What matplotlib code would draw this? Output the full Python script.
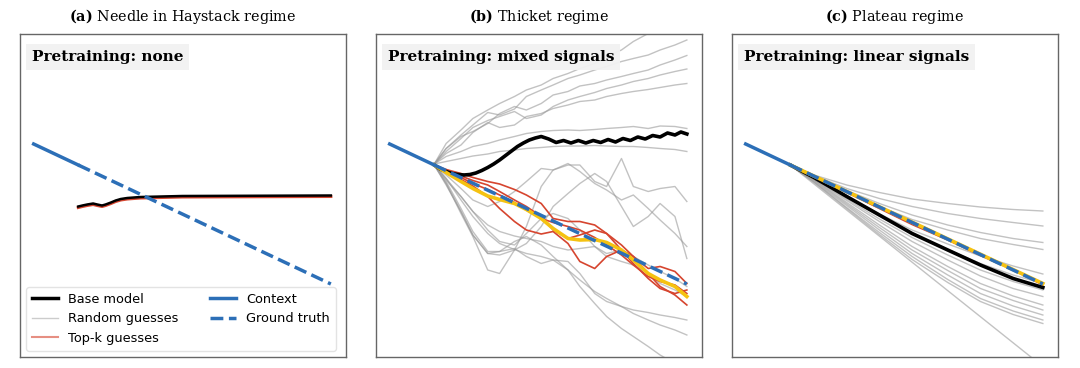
import matplotlib.pyplot as plt
from matplotlib.lines import Line2D

plt.rcParams['mathtext.fontset'] = 'dejavuserif'

# shared context window and ground-truth continuation
ctx_t = [0, 15]
ctx_y = [0.92, 0.50]
truth_t = [15, 100]
truth_y = [0.50, -1.88]

# (a) needle in haystack: base model and its top-k guess
ta = [15, 16.4, 18, 20, 21.4, 23, 24.2, 26, 27.6, 29.3, 31.5, 36, 43, 50, 100]
base_a = [-0.33, -0.31, -0.29, -0.27, -0.29, -0.31, -0.29, -0.25, -0.21, -0.18, -0.16, -0.14, -0.13, -0.12, -0.11]
topk_a = [-0.35, -0.33, -0.31, -0.29, -0.31, -0.33, -0.31, -0.27, -0.23, -0.20, -0.18, -0.16, -0.15, -0.14, -0.13]

# (b) thicket regime
tb = [15, 19, 24, 28, 33, 37, 42, 46, 51, 55, 60, 64, 69, 73, 78, 82, 87, 91, 96, 100]
random_b = [
    [0.52, 0.93, 1.20, 1.43, 1.60, 1.73, 1.87, 2.00, 2.10, 2.23, 2.33, 2.43, 2.53, 2.67, 2.80, 2.97, 3.13, 3.30, 3.47, 3.60],
    [0.52, 0.83, 1.10, 1.30, 1.55, 1.50, 1.62, 1.87, 2.00, 2.10, 2.23, 2.30, 2.40, 2.47, 2.57, 2.63, 2.70, 2.80, 2.90, 3.00],
    [0.52, 0.83, 1.07, 1.17, 1.33, 1.53, 1.67, 1.60, 1.73, 1.90, 1.97, 2.08, 2.13, 2.20, 2.27, 2.33, 2.40, 2.50, 2.60, 2.69],
    [0.52, 0.77, 1.03, 1.25, 1.39, 1.47, 1.57, 1.43, 1.50, 1.67, 1.80, 1.87, 1.95, 2.03, 2.10, 2.17, 2.23, 2.30, 2.37, 2.42],
    [0.52, 0.73, 0.90, 1.15, 1.35, 1.25, 1.30, 1.47, 1.53, 1.63, 1.70, 1.77, 1.80, 1.87, 1.93, 1.97, 2.01, 2.05, 2.10, 2.13],
    [0.52, 0.67, 0.77, 0.87, 0.93, 1.00, 1.07, 1.13, 1.17, 1.19, 1.20, 1.19, 1.21, 1.23, 1.25, 1.27, 1.23, 1.28, 1.27, 1.23],
    [0.52, 0.57, 0.63, 0.68, 0.72, 0.77, 0.80, 0.83, 0.85, 0.87, 0.88, 0.88, 0.89, 0.88, 0.87, 0.87, 0.85, 0.83, 0.81, 0.77],
    [0.50, 0.13, -0.47, -0.93, -1.60, -1.67, -1.20, -0.73, 0.07, 0.40, 0.50, 0.50, 0.17, 0.07, 0.63, 0.07, -0.03, 0.03, 0.07, -0.23],
    [0.50, 0.10, -0.43, -0.90, -1.27, -1.30, -1.20, -1.07, -0.73, -0.33, -0.07, 0.13, 0.33, 0.17, -0.33, -0.73, -0.53, -0.27, -0.53, -1.37],
    [0.50, 0.23, -0.13, -0.43, -0.70, -0.83, -0.92, -0.97, -1.03, -1.13, -1.20, -1.17, -1.13, -1.27, -1.20, -1.33, -1.50, -1.63, -1.77, -1.93],
    [0.50, 0.17, -0.37, -0.83, -1.23, -1.23, -1.17, -1.33, -1.47, -1.40, -1.43, -1.67, -2.07, -2.23, -2.33, -2.40, -2.45, -2.50, -2.55, -2.60],
    [0.50, 0.13, -0.43, -0.90, -1.27, -1.23, -1.03, -0.93, -1.10, -1.33, -1.60, -1.80, -2.03, -2.17, -2.33, -2.47, -2.60, -2.70, -2.80, -2.90],
    [0.50, 0.23, -0.20, -0.53, -0.87, -1.07, -1.19, -1.27, -1.33, -1.40, -1.60, -1.93, -2.27, -2.53, -2.77, -2.93, -3.13, -3.30, -3.47, -3.63],
    [0.50, 0.30, 0.03, -0.20, -0.33, -0.23, -0.03, 0.17, 0.43, 0.40, 0.53, 0.37, 0.13, 0.00, -0.20, -0.10, -0.37, -0.60, -0.87, -1.13],
    [0.50, 0.20, -0.13, -0.43, -0.80, -1.03, -1.10, -0.87, -0.57, -0.47, -0.57, -0.80, -1.13, -1.33, -1.43, -1.50, -1.67, -1.87, -2.00, -2.13],
]
topk_b = [
    [0.50, 0.41, 0.33, 0.25, 0.17, 0.12, 0.01, -0.10, -0.27, -0.57, -0.63, -0.63, -0.70, -0.87, -1.20, -1.47, -1.77, -1.97, -2.07, -2.00],
    [0.50, 0.39, 0.28, 0.19, 0.10, -0.03, -0.20, -0.33, -0.53, -0.80, -0.97, -0.90, -0.80, -0.87, -1.10, -1.33, -1.57, -1.53, -1.63, -1.87],
    [0.50, 0.37, 0.21, 0.08, -0.13, -0.37, -0.63, -0.80, -0.88, -0.83, -1.07, -1.43, -1.57, -1.33, -1.20, -1.33, -1.67, -1.93, -2.10, -2.30],
    [0.50, 0.39, 0.25, 0.13, 0.01, -0.10, -0.25, -0.40, -0.57, -0.65, -0.73, -0.80, -0.95, -1.10, -1.30, -1.50, -1.73, -1.83, -1.90, -2.07],
]
best_b = [0.50, 0.35, 0.17, 0.03, -0.12, -0.19, -0.27, -0.39, -0.57, -0.77, -0.97, -1.00, -0.99, -1.05, -1.20, -1.40, -1.67, -1.80, -1.93, -2.13]
tb_base = [15, 17, 19, 21, 23, 25, 27, 29, 31, 33, 35, 37, 39, 41, 43, 45, 47, 49, 51,
           53.5, 56, 58.5, 61, 63.5, 66, 68.5, 71, 73.5, 76, 78.5, 81, 83.5, 86, 88.5, 91, 93.5, 96, 98, 100]
base_b = [0.50, 0.42, 0.37, 0.33, 0.31, 0.30, 0.31, 0.34, 0.39, 0.45, 0.52, 0.60, 0.69, 0.78, 0.87, 0.94, 1.00, 1.04, 1.07,
          1.02, 0.95, 0.99, 0.94, 0.99, 0.94, 0.99, 0.95, 1.01, 0.96, 1.03, 0.99, 1.06, 1.02, 1.09, 1.06, 1.14, 1.10, 1.16, 1.12]

# (c) plateau regime
tc = [15, 23, 34, 45, 56, 68, 79, 90, 100]
random_c = [
    [0.50, 0.30, 0.10, -0.05, -0.18, -0.27, -0.34, -0.39, -0.42],
    [0.50, 0.29, 0.03, -0.17, -0.33, -0.47, -0.57, -0.65, -0.72],
    [0.50, 0.27, -0.01, -0.27, -0.50, -0.70, -0.85, -0.97, -1.05],
    [0.50, 0.27, -0.05, -0.33, -0.59, -0.80, -0.97, -1.09, -1.19],
    [0.50, 0.25, -0.12, -0.48, -0.80, -1.08, -1.32, -1.52, -1.68],
    [0.50, 0.23, -0.15, -0.52, -0.87, -1.19, -1.47, -1.70, -1.87],
    [0.50, 0.22, -0.18, -0.58, -0.95, -1.30, -1.60, -1.83, -2.00],
    [0.50, 0.21, -0.21, -0.63, -1.03, -1.40, -1.72, -1.97, -2.13],
    [0.50, 0.20, -0.25, -0.70, -1.13, -1.53, -1.87, -2.12, -2.30],
    [0.50, 0.19, -0.28, -0.75, -1.20, -1.61, -1.97, -2.21, -2.40],
    [0.50, 0.17, -0.31, -0.80, -1.27, -1.70, -2.07, -2.32, -2.50],
    [0.50, 0.16, -0.35, -0.85, -1.33, -1.79, -2.17, -2.42, -2.60],
    [0.50, 0.15, -0.37, -0.89, -1.39, -1.85, -2.23, -2.49, -2.67],
]
steep_t = [15, 100]
steep_c = [0.50, -3.53]
base_c = [0.50, 0.25, -0.13, -0.50, -0.87, -1.20, -1.50, -1.77, -1.95]
topk_c = [0.50, 0.27, -0.05, -0.37, -0.69, -1.00, -1.31, -1.60, -1.90]
best_t = [15, 100]
best_c = [0.50, -1.87]

titles = ["Needle in Haystack regime", "Thicket regime", "Plateau regime"]
letters = ["a", "b", "c"]
labels = ["Pretraining: none", "Pretraining: mixed signals", "Pretraining: linear signals"]

BLUE = "#2c6fb7"
RED = "#d6452f"
YELLOW = "#f5c211"
GRAY = "#9a9a9a"

fig = plt.figure(figsize=(10.8, 3.68), dpi=100)
lefts = [20, 376, 732]
axes = []
for left in lefts:
    ax = fig.add_axes([left / 1080, 11 / 368, 326 / 1080, 323 / 368])
    ax.set_xlim(-4.6, 105.1)
    ax.set_ylim(-3.34, 3.12)
    ax.set_xticks([])
    ax.set_yticks([])
    for sp in ax.spines.values():
        sp.set_color("#666666")
        sp.set_linewidth(1.0)
    axes.append(ax)

ax_a, ax_b, ax_c = axes

# panel a
ax_a.plot(ta, topk_a, color=RED, lw=2.2, zorder=2)
ax_a.plot(ta, base_a, color="black", lw=1.8, zorder=3)

# panel b
for ys in random_b:
    ax_b.plot(tb, ys, color=GRAY, lw=1.0, alpha=0.6, zorder=1)
for ys in topk_b:
    ax_b.plot(tb, ys, color=RED, lw=1.2, zorder=2)
ax_b.plot(tb_base, base_b, color="black", lw=2.6, zorder=3)
ax_b.plot(tb, best_b, color=YELLOW, lw=2.6, zorder=4)

# panel c
for ys in random_c:
    ax_c.plot(tc, ys, color=GRAY, lw=1.0, alpha=0.6, zorder=1)
ax_c.plot(steep_t, steep_c, color=GRAY, lw=1.0, alpha=0.6, zorder=1)
ax_c.plot(tc, base_c, color="black", lw=2.6, zorder=3)
ax_c.plot(tc, topk_c, color=RED, lw=1.2, zorder=2)
ax_c.plot(best_t, best_c, color=YELLOW, lw=2.6, zorder=4)

for i, ax in enumerate(axes):
    ax.plot(truth_t, truth_y, color=BLUE, lw=2.5, ls="--", zorder=5)
    ax.plot(ctx_t, ctx_y, color=BLUE, lw=2.5, zorder=6)
    ax.text(0.5, 1.053, r"$\mathbf{(" + letters[i] + ")}$ " + titles[i],
            transform=ax.transAxes, ha="center", va="center",
            fontsize=10.4, family="DejaVu Serif")
    ax.text(0.036, 0.929, labels[i], transform=ax.transAxes, ha="left", va="center",
            fontsize=11, fontweight="bold", family="DejaVu Serif", zorder=10,
            bbox=dict(boxstyle="square,pad=0.4", fc="#f2f2f2", ec="none", alpha=0.95))

handles = [
    Line2D([], [], color="black", lw=2.5, label="Base model"),
    Line2D([], [], color="#cccccc", lw=1.0, label="Random guesses"),
    Line2D([], [], color=RED, lw=1.5, alpha=0.6, label="Top-k guesses"),
    Line2D([], [], color=BLUE, lw=2.5, label="Context"),
    Line2D([], [], color=BLUE, lw=2.5, ls="--", label="Ground truth"),
]
leg = ax_a.legend(handles=handles, loc="lower left", ncol=2, fontsize=9.3,
                  frameon=True, borderaxespad=0.5, handlelength=2.0,
                  columnspacing=2.4, labelspacing=0.5, borderpad=0.45)
leg.get_frame().set_edgecolor("#dddddd")

fig.savefig("out.png", dpi=100)
